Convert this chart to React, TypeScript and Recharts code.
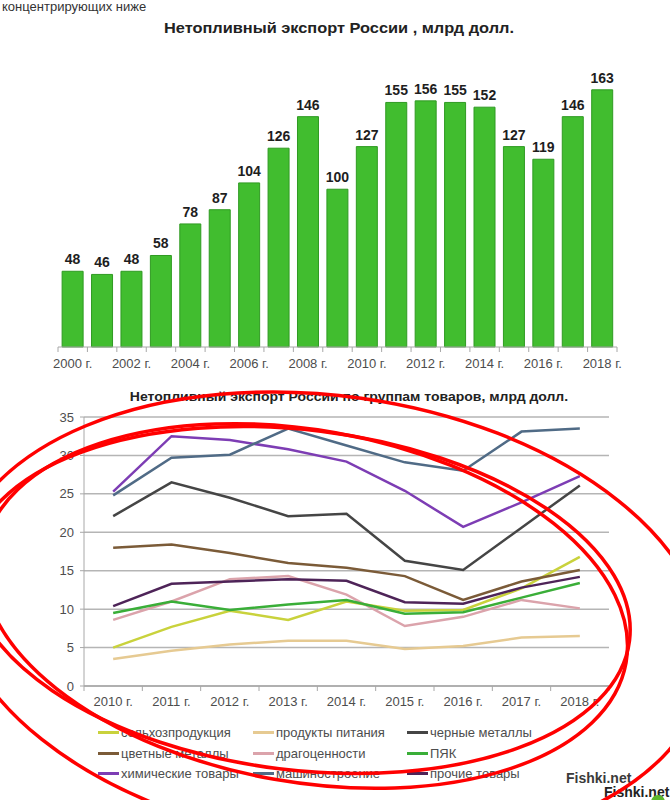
import React from 'react';
import {
  BarChart,
  Bar,
  XAxis,
  YAxis,
  LabelList,
  ComposedChart,
  Line,
  CartesianGrid,
  Legend,
} from 'recharts';

// ---------- Data: top chart ----------
const barYears = [
  '2000 г.', '2001 г.', '2002 г.', '2003 г.', '2004 г.', '2005 г.', '2006 г.',
  '2007 г.', '2008 г.', '2009 г.', '2010 г.', '2011 г.', '2012 г.', '2013 г.',
  '2014 г.', '2015 г.', '2016 г.', '2017 г.', '2018 г.',
];
const barValues = [48, 46, 48, 58, 78, 87, 104, 126, 146, 100, 127, 155, 156, 155, 152, 127, 119, 146, 163];

// ---------- Data: bottom chart ----------
const lineYears = ['2010 г.', '2011 г.', '2012 г.', '2013 г.', '2014 г.', '2015 г.', '2016 г.', '2017 г.', '2018 г.'];
const agro = [5.0, 7.7, 9.8, 8.6, 11.0, 9.8, 9.9, 12.7, 16.8];
const food = [3.5, 4.6, 5.4, 5.9, 5.9, 4.8, 5.2, 6.3, 6.5];
const ferrous = [22.1, 26.5, 24.5, 22.1, 22.4, 16.3, 15.1, 20.6, 26.1];
const nonFerrous = [18.0, 18.4, 17.3, 16.0, 15.4, 14.3, 11.2, 13.6, 15.1];
const precious = [8.6, 11.0, 13.9, 14.3, 11.9, 7.8, 9.0, 11.2, 10.1];
const pyk = [9.5, 11.0, 9.9, 10.6, 11.2, 9.4, 9.6, 11.5, 13.4];
const chemical = [25.3, 32.5, 32.0, 30.8, 29.2, 25.4, 20.7, 23.9, 27.3];
const machinery = [24.8, 29.7, 30.1, 33.5, 31.3, 29.1, 28.0, 33.1, 33.5];
const other = [10.4, 13.3, 13.6, 13.9, 13.7, 10.9, 10.7, 12.8, 14.2];
const yTicks = [0, 5, 10, 15, 20, 25, 30, 35];

const seriesList = [
  { key: 'agro', name: 'сельхозпродукция', color: '#c9d23c', values: agro },
  { key: 'food', name: 'продукты питания', color: '#e6ca92', values: food },
  { key: 'ferrous', name: 'черные металлы', color: '#454545', values: ferrous },
  { key: 'nonFerrous', name: 'цветные металлы', color: '#7b5b38', values: nonFerrous },
  { key: 'precious', name: 'драгоценности', color: '#dba3ab', values: precious },
  { key: 'pyk', name: 'ПЯК', color: '#3aae38', values: pyk },
  { key: 'chemical', name: 'химические товары', color: '#7d3db4', values: chemical },
  { key: 'machinery', name: 'машиностроение', color: '#506b86', values: machinery },
  { key: 'other', name: 'прочие товары', color: '#4e2458', values: other },
];

const barData = barYears.map((year, i) => ({ year, value: barValues[i] }));
const lineData = lineYears.map((year, i) => {
  const row: Record<string, any> = { year };
  seriesList.forEach((s) => {
    row[s.key] = s.values[i];
  });
  return row;
});

const FONT = '"Liberation Sans", Arial, sans-serif';

function BandTick(props: any) {
  const { x, y, payload, index, bw, every, dy, total } = props;
  const show = index % every === 0;
  return (
    <g>
      <line x1={x - bw / 2} x2={x - bw / 2} y1={y} y2={y + 5} stroke="#a8a8a8" strokeWidth={1} />
      {index === total - 1 && (
        <line x1={x + bw / 2} x2={x + bw / 2} y1={y} y2={y + 5} stroke="#a8a8a8" strokeWidth={1} />
      )}
      {show && (
        <text x={x} y={y + dy} textAnchor="middle" fill="#4d4d4d" fontSize={13} fontFamily={FONT}>
          {payload.value}
        </text>
      )}
    </g>
  );
}

const legendCols = [98, 253, 407];
const legendRows = [12, 33, 53];

function LegendBox() {
  return (
    <div style={{ position: 'relative', width: 670, height: 62 }}>
      {seriesList.map((s, i) => {
        const col = i % 3;
        const row = Math.floor(i / 3);
        return (
          <div
            key={s.key}
            style={{
              position: 'absolute',
              left: legendCols[col],
              top: legendRows[row] - 9,
              height: 18,
              display: 'flex',
              alignItems: 'center',
              whiteSpace: 'nowrap',
            }}
          >
            <div style={{ width: 21, height: 3, background: s.color, marginRight: 2 }} />
            <span style={{ fontFamily: FONT, fontSize: 13, color: '#4d4d4d' }}>{s.name}</span>
          </div>
        );
      })}
    </div>
  );
}

export default function App() {
  const bw1 = (617 - 58) / barYears.length;
  const bw2 = (609 - 84) / lineYears.length;
  return (
    <div
      style={{
        position: 'absolute',
        left: 0,
        top: 0,
        width: 670,
        height: 800,
        overflow: 'hidden',
        background: '#ffffff',
        fontFamily: FONT,
      }}
    >
      <div
        style={{
          position: 'absolute',
          left: 2,
          top: 0,
          lineHeight: '14px',
          fontSize: 13,
          color: '#333',
          whiteSpace: 'nowrap',
        }}
      >
        концентрирующих ниже
      </div>

      <div
        style={{
          position: 'absolute',
          left: 0,
          top: 19,
          width: 678,
          textAlign: 'center',
          fontSize: 15,
          lineHeight: '18px',
          fontWeight: 'bold',
          color: '#222',
          transform: 'scaleX(1.09)',
          transformOrigin: '339px 0',
        }}
      >
        Нетопливный экспорт России , млрд долл.
      </div>

      <div style={{ position: 'absolute', left: 0, top: 0 }}>
        <BarChart
          width={670}
          height={380}
          data={barData}
          margin={{ top: 63, right: 53, bottom: 0, left: 58 }}
          barCategoryGap="14%"
        >
          <YAxis hide domain={[0, 180]} />
          <XAxis
            dataKey="year"
            height={33}
            interval={0}
            tickSize={0}
            tickMargin={0}
            tickLine={false}
            axisLine={{ stroke: '#a8a8a8' }}
            tick={(p: any) => <BandTick {...p} bw={bw1} every={2} dy={21} total={barYears.length} />}
          />
          <Bar dataKey="value" fill="#41bd2f" stroke="#2f9a22" strokeWidth={1} isAnimationActive={false}>
            <LabelList
              dataKey="value"
              position="top"
              offset={7}
              style={{ fontFamily: FONT, fontSize: 14, fontWeight: 'bold', fill: '#1e1e1e' }}
            />
          </Bar>
        </BarChart>
      </div>

      <div
        style={{
          position: 'absolute',
          left: 0,
          top: 389,
          width: 698,
          textAlign: 'center',
          fontSize: 13,
          lineHeight: '16px',
          fontWeight: 'bold',
          color: '#222',
          transform: 'scaleX(1.076)',
          transformOrigin: '349px 0',
        }}
      >
        Нетопливный экспорт России по группам товаров, млрд долл.
      </div>

      <div style={{ position: 'absolute', left: 0, top: 380 }}>
        <ComposedChart
          width={670}
          height={420}
          data={lineData}
          margin={{ top: 37, right: 61, bottom: 18, left: 0 }}
        >
          <CartesianGrid vertical={false} stroke="#b5b5b5" strokeWidth={1.5} />
          <YAxis
            width={84}
            domain={[0, 35]}
            ticks={yTicks}
            interval={0}
            tickSize={4}
            tickMargin={6}
            tickLine={{ stroke: '#a8a8a8' }}
            axisLine={{ stroke: '#a8a8a8' }}
            tick={{ fill: '#4d4d4d', fontSize: 13, fontFamily: FONT }}
          />
          <XAxis
            dataKey="year"
            scale="band"
            height={34}
            interval={0}
            tickSize={0}
            tickMargin={0}
            tickLine={false}
            axisLine={{ stroke: '#a8a8a8', strokeWidth: 1.5 }}
            tick={(p: any) => <BandTick {...p} bw={bw2} every={1} dy={20} total={lineYears.length} />}
          />
          <Legend
            verticalAlign="bottom"
            content={() => <LegendBox />}
            wrapperStyle={{ left: 0, width: 670, top: 340 }}
          />
          {seriesList.map((s) => (
            <Line
              key={s.key}
              type="linear"
              dataKey={s.key}
              name={s.name}
              stroke={s.color}
              strokeWidth={2.5}
              dot={false}
              activeDot={false}
              isAnimationActive={false}
            />
          ))}
        </ComposedChart>
      </div>

      <div
        style={{
          position: 'absolute',
          left: 566,
          top: 770,
          fontSize: 14,
          fontWeight: 'bold',
          color: '#3a3a3a',
          textShadow: '0 0 2px #fff, 0 0 2px #fff',
        }}
      >
        Fishki.net
      </div>
      <div
        style={{
          position: 'absolute',
          left: 604,
          top: 784,
          fontSize: 14,
          fontWeight: 'bold',
          color: '#222',
          textShadow: '0 0 2px #fff, 0 0 2px #fff',
        }}
      >
        Fishki.net
      </div>

      <svg
        width={670}
        height={800}
        style={{ position: 'absolute', left: 0, top: 0, pointerEvents: 'none' }}
      >
        <circle cx={658} cy={802} r={7} fill="#5cb82e" />
        <g fill="none" stroke="#ff0000" strokeWidth={3.5} strokeLinecap="round">
          <ellipse cx={330} cy={620} rx={380} ry={224} transform="rotate(8 330 620)" />
          <ellipse cx={300} cy={600} rx={332} ry={170} transform="rotate(7 300 600)" />
          <ellipse cx={305} cy={606} rx={326} ry={176} transform="rotate(10 305 606)" />
        </g>
      </svg>
    </div>
  );
}
